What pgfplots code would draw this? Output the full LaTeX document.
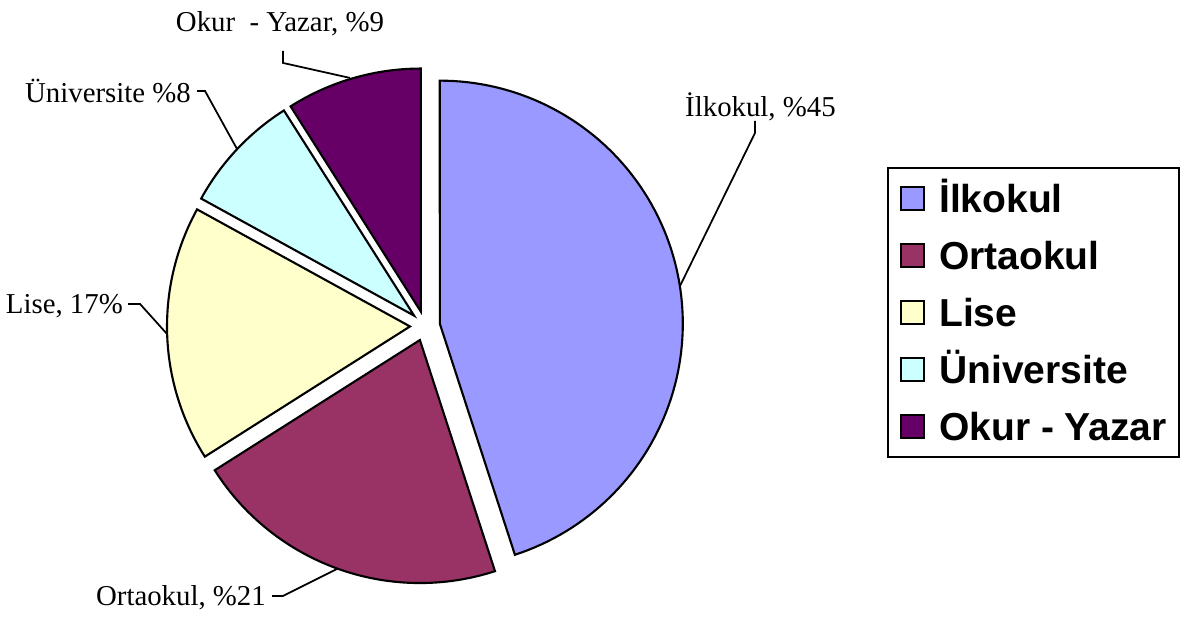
\documentclass[border=0pt]{standalone}
\usepackage{fontspec}
\setmainfont{Liberation Serif}
\newfontfamily\arialfont{Liberation Sans}
\usepackage{pgfplots}
\pgfplotsset{compat=1.18}
\usepackage{pgfplotstable}

\definecolor{cIlk}{HTML}{9999FF}
\definecolor{cOrt}{HTML}{993366}
\definecolor{cLis}{HTML}{FFFFCC}
\definecolor{cUni}{HTML}{CCFFFF}
\definecolor{cOku}{HTML}{660066}

\newcommand\labelfont{\fontsize{8.2pt}{10pt}\selectfont}
\newcommand\legfont{\arialfont\bfseries\fontsize{11.1pt}{13pt}\selectfont}

% Shares (percent), clockwise from 12 o'clock:
% Ilkokul 45, Ortaokul 21, Lise 17, Universite 8, Okur-Yazar 9

\begin{document}
\begin{tikzpicture}
\begin{axis}[
  scale only axis, width=11.88cm, height=6.16cm,
  xmin=0, xmax=1188, ymin=0, ymax=616,
  hide axis, clip=false,
  legend image code/.code={\draw[#1,line width=0.6pt] (0cm,-0.115cm) rectangle (0.23cm,0.115cm);},
  legend style={draw=black, line width=0.6pt, at={(axis cs:887,455)}, anchor=north west,
    inner xsep=0.12cm, inner ysep=0.115cm, row sep=0.19cm, column sep=0.14cm, font=\legfont,
    nodes={inner sep=0pt, text height=0.33cm, text depth=0.05cm}},
  legend cell align=left,
]
\path (axis cs:0,0) rectangle (axis cs:1188,616);

\addplot[fill=cIlk, draw=black, line width=0.6pt, domain=90-3.6*45:90, samples=100]
  ({439.8+243*cos(x)},{298.3+243*sin(x)}) -- (axis cs:439.8,298.3) -- cycle;
\addlegendentry{İlkokul}
\addplot[fill=cOrt, draw=black, line width=0.6pt, domain=90-3.6*66:90-3.6*45, samples=60]
  ({419.9+243*cos(x)},{281.9+243*sin(x)}) -- (axis cs:419.9,281.9) -- cycle;
\addlegendentry{Ortaokul}
\addplot[fill=cLis, draw=black, line width=0.6pt, domain=90-3.6*83:90-3.6*66, samples=50]
  ({410.0+243*cos(x)},{295.5+243*sin(x)}) -- (axis cs:410.0,295.5) -- cycle;
\addlegendentry{Lise}
\addplot[fill=cUni, draw=black, line width=0.6pt, domain=90-3.6*91:90-3.6*83, samples=30]
  ({414.1+243*cos(x)},{306.3+243*sin(x)}) -- (axis cs:414.1,306.3) -- cycle;
\addlegendentry{Üniversite}
\addplot[fill=cOku, draw=black, line width=0.6pt, domain=90-3.6*100:90-3.6*91, samples=30]
  ({420.8+243*cos(x)},{310.4+243*sin(x)}) -- (axis cs:420.8,310.4) -- cycle;
\addlegendentry{Okur - Yazar}

% data labels with leader lines
\node[font=\labelfont, anchor=center] at (axis cs:280,598) {Okur\ \ - Yazar, \%9};
\draw[line width=0.5pt] (axis cs:283,571) -- (axis cs:283,559) -- (axis cs:350,544);
\node[font=\labelfont, anchor=east, inner sep=1pt] at (axis cs:195,531) {Üniversite \%8};
\draw[line width=0.5pt] (axis cs:197,531) -- (axis cs:205,531) -- (axis cs:237,473);
\node[font=\labelfont, anchor=east, inner sep=1pt] at (axis cs:127,316) {Lise, 17\%};
\draw[line width=0.5pt] (axis cs:128,318) -- (axis cs:140,318) -- (axis cs:167,288);
\node[font=\labelfont, anchor=east, inner sep=1pt] at (axis cs:270,24) {Ortaokul, \%21};
\draw[line width=0.5pt] (axis cs:272,26) -- (axis cs:283,26) -- (axis cs:337,53);
\node[font=\labelfont, anchor=west, inner sep=1pt] at (axis cs:681,515) {İlkokul, \%45};
\draw[line width=0.5pt] (axis cs:755,501) -- (axis cs:755,489) -- (axis cs:680,336);
\end{axis}
\end{tikzpicture}
\end{document}
